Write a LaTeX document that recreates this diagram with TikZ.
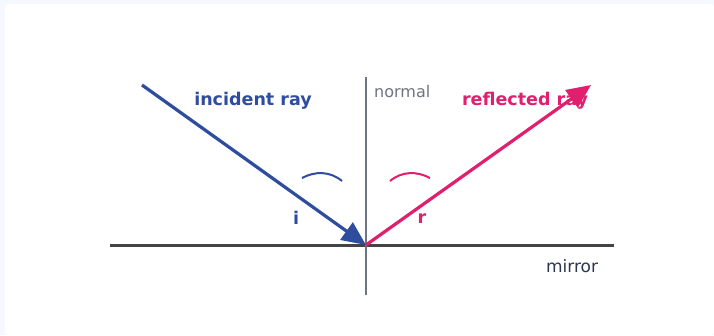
\documentclass[tikz,border=0pt]{standalone}
\usepackage{fontspec}
\setmainfont{DejaVu Sans}
\usetikzlibrary{arrows.meta}
\definecolor{bg}{HTML}{F5F9FF}
\definecolor{incblue}{HTML}{2E4D9E}
\definecolor{refpink}{HTML}{E01F6E}
\definecolor{mirrorgray}{HTML}{444444}
\definecolor{normalgray}{HTML}{6E7482}
\definecolor{labelnavy}{HTML}{2B3650}
\tikzset{
  ray/.style={line width=3.2pt,-{Triangle[length=24pt,width=21pt]}},
  arcmark/.style={line width=2pt},
  raylabel/.style={font=\fontsize{17.5}{20}\selectfont\bfseries,inner sep=0pt},
  plainlabel/.style={font=\fontsize{16}{19}\selectfont,inner sep=0pt},
}
\begin{document}
\begin{tikzpicture}[x=1pt,y=-1pt]
\useasboundingbox (0,0) rectangle (714,335);
\fill[bg] (0,0) rectangle (714,335);
\fill[white,rounded corners=3pt] (5,4) -- (714,4) -- (714,335) -- (5,335) -- cycle;
% mirror and normal
\coordinate (O) at (366,245);
\coordinate (ML) at (110,245);
\coordinate (MR) at (614,245);
\coordinate (NT) at (366,77);
\coordinate (NB) at (366,295);
\coordinate (S) at (142,85);
\coordinate (E) at (591,85);
\draw[mirrorgray,line width=3pt] (ML) -- (MR);
\draw[normalgray,line width=1.3pt] (NT) -- (NB);
% rays
\draw[incblue,ray] (S) -- (O);
\draw[refpink,ray] (O) -- (E);
% angle arcs
\draw[incblue,arcmark] (302,178) .. controls (315,171) and (330,171) .. (342,181);
\draw[refpink,arcmark] (390,181) .. controls (402,171) and (417,171) .. (430,178);
% labels
\node[raylabel,text=incblue] (lin) at (253,101) {incident ray};
\node[raylabel,text=refpink] (lref) at (525,101) {reflected ray};
\node[plainlabel,text=normalgray,anchor=west] (lnorm) at (374,92) {normal};
\node[plainlabel,font=\fontsize{17}{20}\selectfont,text=labelnavy] (lmir) at (572,266) {mirror};
\node[raylabel,text=incblue] (li) at (296,218) {i};
\node[raylabel,text=refpink] (lr) at (422,219) {r};
\end{tikzpicture}
\end{document}
